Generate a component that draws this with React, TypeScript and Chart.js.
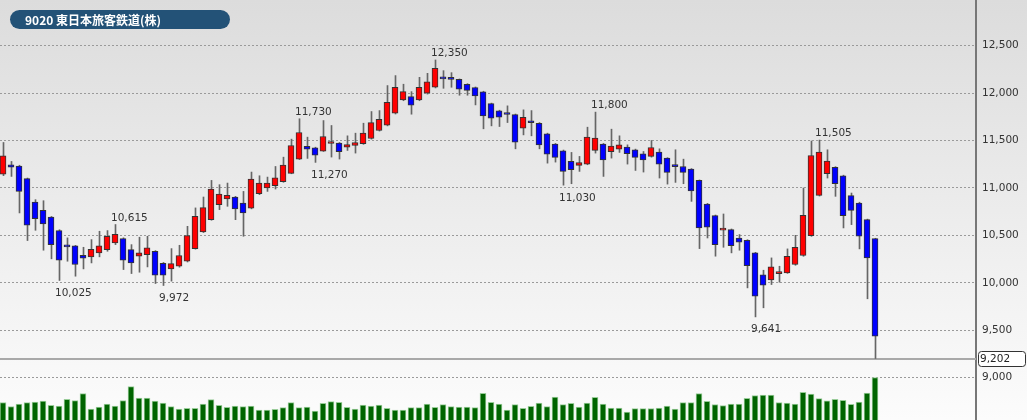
import React, { useEffect, useRef } from 'react';
import { Chart, registerables } from 'chart.js';

Chart.register(...registerables);

const TITLE = '9020 東日本旅客鉄道(株)';

const OPEN = [
  11147, 11245, 11231, 11098, 10852, 10765, 10694, 10551, 10400, 10389,
  10291, 10274, 10316, 10351, 10421, 10467, 10351, 10281, 10298, 10333,
  10207, 10147, 10175, 10228, 10361, 10537, 10666, 10824, 10884, 10905,
  10842, 10786, 10940, 11000, 11024, 11066, 11154, 11305, 11438, 11424,
  11389, 11469, 11473, 11431, 11448, 11466, 11522, 11606, 11662, 11789,
  11929, 11964, 11929, 11999, 12062, 12160, 12155, 12146, 12094, 12059,
  12013, 11890, 11813, 11782, 11774, 11631, 11695, 11683, 11571, 11462,
  11392, 11280, 11238, 11252, 11396, 11462, 11382, 11410, 11431, 11403,
  11361, 11333, 11378, 11315, 11235, 11227, 11199, 11080, 10831, 10708,
  10556, 10561, 10473, 10449, 10316, 10084, 10032, 10098, 10105, 10193,
  10288, 10498, 10922, 11150, 11217, 11129, 10919, 10842, 10666, 10466,
];

const HIGH = [
  11480, 11280, 11240, 11105, 10877, 10866, 10700, 10560, 10474, 10395,
  10375, 10456, 10544, 10551, 10615, 10475, 10403, 10481, 10491, 10340,
  10215, 10361, 10396, 10596, 10790, 10905, 11080, 11035, 11052, 10912,
  10964, 11168, 11129, 11115, 11227, 11325, 11515, 11730, 11536, 11430,
  11711, 11659, 11480, 11550, 11578, 11683, 11806, 11816, 12080, 12185,
  12094, 12016, 12167, 12209, 12350, 12237, 12216, 12150, 12100, 12065,
  12020, 11895, 11820, 11866, 11780, 11824, 11816, 11690, 11578, 11470,
  11400, 11375, 11333, 11641, 11800, 11470, 11620, 11550, 11455, 11410,
  11385, 11501, 11413, 11320, 11403, 11304, 11205, 11085, 10838, 10715,
  10726, 10568, 10509, 10455, 10322, 10133, 10263, 10175, 10358, 10501,
  11000, 11495, 11505, 11403, 11225, 11135, 10947, 10850, 10672, 10470,
];

const LOW = [
  11130, 11122, 10737, 10446, 10554, 10344, 10253, 10025, 10228, 10070,
  10147, 10210, 10274, 10333, 10403, 10140, 10098, 10112, 10168, 9993,
  9972, 10018, 10165, 10220, 10355, 10530, 10660, 10772, 10807, 10666,
  10491, 10780, 10930, 10964, 10989, 11060, 11150, 11300, 11312, 11270,
  11385, 11326, 11305, 11396, 11368, 11460, 11515, 11600, 11655, 11780,
  11920, 11778, 11920, 11990, 12055, 12051, 12062, 11978, 11978, 11876,
  11624, 11655, 11648, 11690, 11413, 11560, 11550, 11413, 11262, 11273,
  11030, 11045, 11175, 11245, 11368, 11122, 11315, 11375, 11252, 11185,
  11168, 11325, 11105, 11041, 11059, 11045, 10859, 10361, 10473, 10281,
  10375, 10316, 10344, 9947, 9641, 9737, 9982, 10007, 10100, 10185,
  10280, 10490, 10915, 11105, 10912, 10579, 10614, 10358, 9832, 9202,
];

const CLOSE = [
  11340, 11220, 10965, 10607, 10677, 10621, 10403, 10239, 10379, 10193,
  10260, 10354, 10389, 10491, 10512, 10239, 10211, 10316, 10368, 10081,
  10081, 10203, 10288, 10498, 10702, 10793, 10989, 10937, 10922, 10779,
  10736, 11094, 11052, 11052, 11108, 11241, 11448, 11585, 11410, 11347,
  11543, 11487, 11382, 11459, 11480, 11578, 11690, 11725, 11904, 12062,
  12016, 11873, 12062, 12118, 12262, 12150, 12145, 12041, 12030, 11971,
  11760, 11736, 11746, 11775, 11483, 11746, 11688, 11455, 11357, 11322,
  11175, 11192, 11269, 11536, 11525, 11297, 11441, 11455, 11361, 11322,
  11297, 11427, 11252, 11164, 11226, 11164, 10968, 10578, 10586, 10403,
  10565, 10393, 10428, 10182, 9860, 9975, 10168, 10105, 10280, 10375,
  10712, 11343, 11378, 11284, 11045, 10708, 10764, 10491, 10263, 9439,
];

// volume (thousand shares)
const VOLUME = [
  1875, 1675, 1800, 1865, 1900, 1950, 1735, 1700, 2035, 1965,
  2325, 1550, 1650, 1800, 1700, 1975, 2665, 2090, 2090, 1950,
  1850, 1665, 1550, 1585, 1585, 1800, 2025, 1735, 1635, 1700,
  1665, 1700, 1500, 1500, 1535, 1615, 1865, 1615, 1650, 1450,
  1835, 1915, 1885, 1635, 1550, 1750, 1700, 1750, 1585, 1500,
  1500, 1615, 1615, 1800, 1635, 1765, 1665, 1650, 1650, 1615,
  2335, 1885, 1800, 1500, 1765, 1585, 1685, 1850, 1665, 2150,
  1765, 1835, 1650, 1850, 2135, 1800, 1600, 1600, 1390, 1565,
  1565, 1575, 1590, 1700, 1550, 1865, 1865, 2325, 1935, 1775,
  1725, 1800, 1800, 2085, 2225, 2250, 2250, 1875, 1840, 1800,
  2385, 2300, 2065, 1960, 2035, 1985, 1785, 1900, 2340, 3115,
];

const PRICE_TICKS = [9000, 9500, 10000, 10500, 11000, 11500, 12000, 12500];
const CURRENT_PRICE = 9202;

// annotated highs / lows (candle index + which extreme)
const MARK_INDEX = [7, 14, 20, 37, 39, 54, 70, 74, 94, 102];
const MARK_SIDE = ['low', 'high', 'low', 'high', 'low', 'high', 'low', 'high', 'low', 'high'];

// axis ranges
const PRICE_MIN = 8554;
const PRICE_MAX = 12982;
const VOL_MIN = 1000;
const VOL_MAX = 22000;
const X_MIN = -0.375;
const X_MAX = 121.625;

const fmt = (v: number) => Number(v).toLocaleString('en-US');
const LABEL_FONT = '10.5px "DejaVu Sans", Verdana, sans-serif';

const decorPlugin = {
  id: 'decor',
  beforeDraw(chart: any) {
    const { ctx, width, height } = chart;
    const g = ctx.createLinearGradient(0, 0, 0, height);
    g.addColorStop(0, '#dcdcdc');
    g.addColorStop(1, '#fcfcfc');
    ctx.save();
    ctx.fillStyle = g;
    ctx.fillRect(0, 0, width, height);
    ctx.restore();
  },
  beforeDatasetsDraw(chart: any) {
    const { ctx, chartArea, scales } = chart;
    const y = Math.round(scales.y.getPixelForValue(CURRENT_PRICE));
    ctx.save();
    ctx.fillStyle = '#a9a9a9';
    ctx.fillRect(chartArea.left, y - 1, chartArea.right - chartArea.left, 2);
    ctx.restore();
  },
  afterDatasetsDraw(chart: any) {
    const { ctx, scales } = chart;
    ctx.save();
    ctx.font = LABEL_FONT;
    ctx.fillStyle = '#333333';
    ctx.textAlign = 'left';
    ctx.textBaseline = 'alphabetic';
    MARK_INDEX.forEach((i, k) => {
      const isHigh = MARK_SIDE[k] === 'high';
      const v = isHigh ? HIGH[i] : LOW[i];
      const x = scales.x.getPixelForValue(i) - 4;
      const py = scales.y.getPixelForValue(v);
      const y = isHigh ? py - 4 : py + 15.5;
      ctx.fillText(fmt(v), x, y);
    });
    ctx.restore();
  },
  afterDraw(chart: any) {
    const { ctx, chartArea, scales } = chart;
    const rr = (x: number, y: number, w: number, h: number, r: number) => {
      ctx.beginPath();
      ctx.moveTo(x + r, y);
      ctx.lineTo(x + w - r, y);
      ctx.arcTo(x + w, y, x + w, y + r, r);
      ctx.lineTo(x + w, y + h - r);
      ctx.arcTo(x + w, y + h, x + w - r, y + h, r);
      ctx.lineTo(x + r, y + h);
      ctx.arcTo(x, y + h, x, y + h - r, r);
      ctx.lineTo(x, y + r);
      ctx.arcTo(x, y, x + r, y, r);
      ctx.closePath();
    };
    ctx.save();
    // title pill
    rr(10, 10, 220, 19, 9.5);
    ctx.fillStyle = '#235277';
    ctx.fill();
    ctx.fillStyle = '#ffffff';
    ctx.font = 'bold 12px "Noto Sans CJK JP", "DejaVu Sans", sans-serif';
    ctx.textAlign = 'left';
    ctx.textBaseline = 'middle';
    ctx.fillText(TITLE, 25, 20);
    // current price box
    const y = Math.round(scales.y.getPixelForValue(CURRENT_PRICE));
    rr(chartArea.right + 2.5, y - 7.5, 47, 15, 3);
    ctx.fillStyle = '#ffffff';
    ctx.fill();
    ctx.lineWidth = 1;
    ctx.strokeStyle = '#333333';
    ctx.stroke();
    ctx.fillStyle = '#222222';
    ctx.font = LABEL_FONT;
    ctx.textBaseline = 'middle';
    ctx.fillText(fmt(CURRENT_PRICE), chartArea.right + 4, y + 0.5);
    ctx.restore();
  },
};

export default function App() {
  const ref = useRef<HTMLCanvasElement>(null);

  useEffect(() => {
    const idx = OPEN.map((_, i) => i);
    const isUp = (i: number) => CLOSE[i] >= OPEN[i];
    const chart = new Chart(ref.current as HTMLCanvasElement, {
      type: 'bar',
      data: {
        datasets: [
          {
            label: 'body',
            data: idx.map((i) => ({ x: i, y: [OPEN[i], CLOSE[i]] })) as any,
            xAxisID: 'x',
            yAxisID: 'y',
            backgroundColor: idx.map((i) => (isUp(i) ? '#ff0000' : '#0000ff')),
            borderColor: '#333333',
            borderWidth: 1,
            borderSkipped: false,
            barThickness: 6,
            minBarLength: 2,
            grouped: false,
            order: 0,
          } as any,
          {
            label: 'wick',
            data: idx.map((i) => ({ x: i, y: [LOW[i], HIGH[i]] })) as any,
            xAxisID: 'xw',
            yAxisID: 'y',
            backgroundColor: '#666666',
            borderWidth: 0,
            barThickness: 1,
            grouped: false,
            order: 1,
          } as any,
          {
            label: 'volume',
            data: idx.map((i) => ({ x: i, y: VOLUME[i] })) as any,
            xAxisID: 'x',
            yAxisID: 'yv',
            backgroundColor: '#006400',
            borderColor: '#99cc99',
            borderWidth: 1,
            barThickness: 6,
            grouped: false,
            order: 2,
          } as any,
        ],
      },
      options: {
        animation: false,
        responsive: false,
        events: [],
        layout: { padding: 0 },
        plugins: {
          legend: { display: false },
          tooltip: { enabled: false },
        },
        scales: {
          x: {
            type: 'linear',
            display: false,
            min: X_MIN,
            max: X_MAX,
            offset: false,
            grid: { display: false, offset: false },
          },
          xw: {
            type: 'linear',
            display: false,
            min: X_MIN - 0.0625,
            max: X_MAX - 0.0625,
            offset: false,
            grid: { display: false, offset: false },
          },
          y: {
            type: 'linear',
            position: 'right',
            min: PRICE_MIN,
            max: PRICE_MAX,
            beginAtZero: false,
            afterFit(scale: any) {
              scale.width = 51;
              scale.paddingTop = 0;
              scale.paddingBottom = 0;
            },
            afterBuildTicks(scale: any) {
              scale.ticks = PRICE_TICKS.map((v) => ({ value: v }));
            },
            grid: {
              color: '#9a9a9a',
              lineWidth: 1,
              drawTicks: false,
              tickLength: 0,
            },
            border: {
              display: true,
              color: '#777777',
              width: 2,
              dash: [2, 2],
            },
            ticks: {
              padding: 6,
              color: '#333333',
              font: { family: '"DejaVu Sans", Verdana, sans-serif', size: 10.5 },
              callback: (v: any) => fmt(v),
            },
          },
          yv: {
            type: 'linear',
            display: false,
            min: VOL_MIN,
            max: VOL_MAX,
            beginAtZero: false,
            grid: { display: false },
          },
        },
      } as any,
      plugins: [decorPlugin],
    });
    return () => chart.destroy();
  }, []);

  return (
    <div style={{ position: 'fixed', left: 0, top: 0, width: 1027, height: 420 }}>
      <canvas ref={ref} width={1027} height={420} style={{ display: 'block' }} />
    </div>
  );
}
